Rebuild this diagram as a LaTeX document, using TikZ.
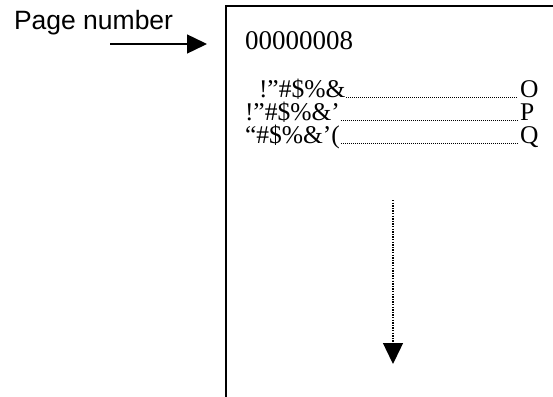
\documentclass[tikz,border=0pt]{standalone}
\usepackage{fontspec}
\setmainfont{Liberation Serif}
\newfontfamily\arialfont{Liberation Sans}
\usetikzlibrary{arrows.meta}
\begin{document}
\begin{tikzpicture}[x=1pt,y=-1pt,
  txt/.style={anchor=base west,inner sep=0pt,outer sep=0pt,font=\fontsize{25.5}{25.5}\selectfont},
  lbl/.style={anchor=base west,inner sep=0pt,outer sep=0pt,font=\arialfont\fontsize{26.5}{26.5}\selectfont},
  leader/.style={line width=0.7pt,dash pattern=on 0.7pt off 1.3pt},
  frame/.style={line width=1.4pt},
  bigarrow/.style={line width=1.4pt,-{Triangle[length=20pt,width=19pt]}},
  dotarrow/.style={line width=1.4pt,dash pattern=on 1.3pt off 1.3pt,-{Triangle[length=21pt,width=20pt]}}]
\useasboundingbox (0,0) rectangle (553,396);
\fill[white] (0,0) rectangle (553,396);
\draw[frame] (226,400) -- (226,6) -- (560,6);
\node[lbl] (pn) at (14,30) {Page number};
\coordinate (pa) at (110,44);
\coordinate (pb) at (207,44);
\draw[bigarrow] (pa) -- (pb);
\node[txt,font=\fontsize{27}{27}\selectfont] (num) at (245,49) {00000008};
\node[txt] (r1) at (259,97) {!”\#\$\%\&};
\node[txt] (r2) at (245,120) {!”\#\$\%\&’};
\node[txt] (r3) at (245,143) {“\#\$\%\&’(};
\node[txt] (o) at (520,97) {O};
\node[txt] (p) at (520,120) {P};
\node[txt] (q) at (520,143) {Q};
\draw[leader] ([xshift=1pt]r1.base east) -- ([xshift=-2pt]o.base west);
\draw[leader] ([xshift=1pt]r2.base east) -- ([xshift=-2pt]p.base west);
\draw[leader] ([xshift=1pt]r3.base east) -- ([xshift=-2pt]q.base west);
\coordinate (va) at (393,200);
\coordinate (vb) at (393,364);
\draw[dotarrow] (va) -- (vb);
\end{tikzpicture}
\end{document}
